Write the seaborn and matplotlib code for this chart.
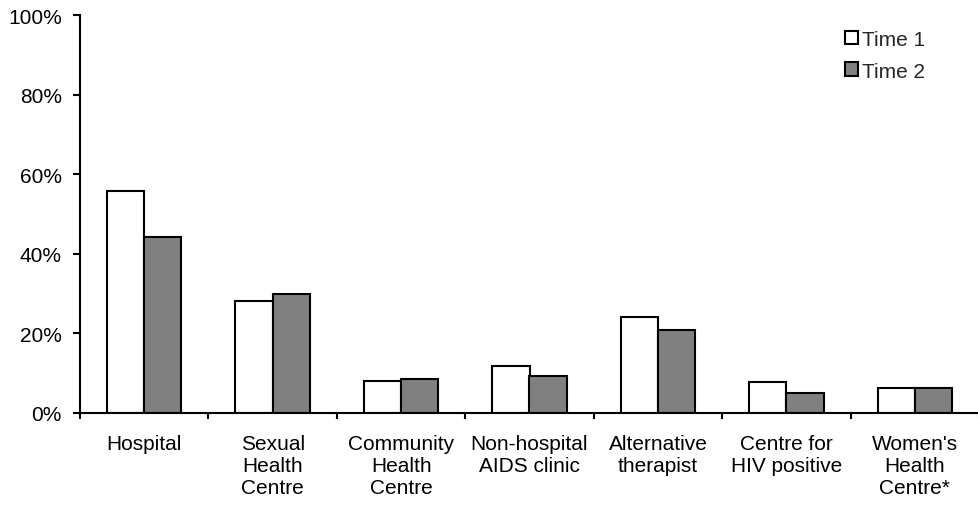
import matplotlib
matplotlib.use("Agg")
import matplotlib.pyplot as plt
import seaborn as sns
import pandas as pd
import numpy as np
from matplotlib.ticker import FuncFormatter, FixedLocator

categories = ["Hospital", "Sexual\nHealth\nCentre", "Community\nHealth\nCentre",
              "Non-hospital\nAIDS clinic", "Alternative\ntherapist",
              "Centre for\nHIV positive", "Women's\nHealth\nCentre*"]
time1 = [55.9, 28.2, 8.1, 11.7, 24.0, 7.8, 6.2]
time2 = [44.1, 29.9, 8.5, 9.4, 20.8, 4.9, 6.2]
series = ["Time 1", "Time 2"]

df = pd.DataFrame({
    "cat": categories * 2,
    "val": time1 + time2,
    "series": [series[0]] * len(categories) + [series[1]] * len(categories),
})

sns.set_style("white")
plt.rcParams['font.family'] = ['Liberation Sans', 'DejaVu Sans']

FS = 15
fig = plt.figure(figsize=(9.79, 5.10), dpi=100)
ax = fig.add_axes([80/979, 96/510, 899/979, 398/510])

sns.barplot(data=df, x="cat", y="val", hue="series", order=categories,
            hue_order=series, palette={"Time 1": "white", "Time 2": "#808080"},
            edgecolor="black", linewidth=1.5, width=0.58, saturation=1,
            ax=ax, legend=True)

ax.set_xlim(-0.5, len(categories) - 0.5)
ax.set_ylim(0, 100)
ax.set_yticks([0, 20, 40, 60, 80, 100])
ax.yaxis.set_major_formatter(FuncFormatter(lambda v, p: f"{int(v)}%"))
ax.set_xlabel("")
ax.set_ylabel("")
for s in ["top", "right"]:
    ax.spines[s].set_visible(False)
for s in ["left", "bottom"]:
    ax.spines[s].set_color("black")
    ax.spines[s].set_linewidth(1.5)

ax.tick_params(axis="y", which="major", direction="out", length=5, width=1.5,
               color="black", labelsize=FS, pad=8, left=True, labelcolor="black")
ax.tick_params(axis="x", which="major", length=0, labelsize=FS, pad=15, labelcolor="black")
ax.xaxis.set_minor_locator(FixedLocator(np.arange(-0.5, len(categories) + 0.5, 1)))
ax.tick_params(axis="x", which="minor", direction="out", length=4.5, width=1.5,
               color="black", bottom=True)
for lab in ax.get_xticklabels():
    lab.set_verticalalignment("top")
    lab.set_multialignment("center")
    lab.set_linespacing(1.22)

leg = ax.legend(loc="upper left", bbox_to_anchor=(845/979, (510-31)/510),
                bbox_transform=fig.transFigure,
                frameon=False, fontsize=FS, handlelength=0.62, handleheight=0.62,
                handletextpad=0.2, labelspacing=0.6, borderaxespad=0, borderpad=0)
for h in leg.legend_handles:
    h.set_edgecolor("black")
    h.set_linewidth(1.5)

fig.savefig("out.png", dpi=100)
